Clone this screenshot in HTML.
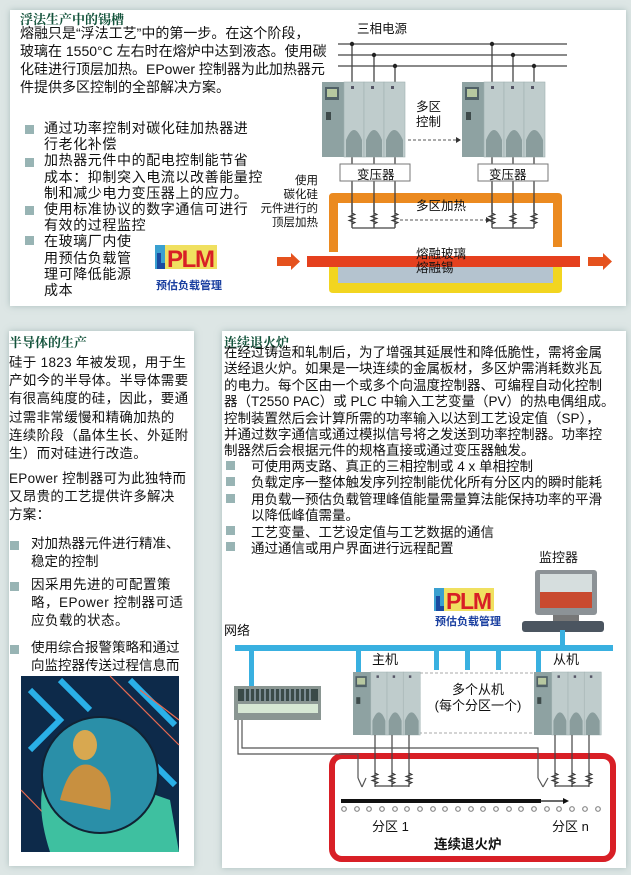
<!DOCTYPE html>
<html><head><meta charset="utf-8">
<style>
*{margin:0;padding:0;box-sizing:border-box}
body{width:631px;height:875px;background:#dde6e5;position:relative;overflow:hidden;font-family:"Liberation Sans","Noto Sans CJK SC",sans-serif;color:#111}
.p{position:absolute;background:#fff;box-shadow:0 0 6px rgba(120,150,150,.5)}
.t{position:absolute;white-space:nowrap}
.h{font-weight:bold;color:#12523a;font-family:"Noto Serif CJK SC","Liberation Serif",serif;font-size:13px}
.b{position:absolute;width:9px;height:9px;background:#98b4b4}
svg{position:absolute;left:0;top:0}
</style></head><body>
<div class="p" style="left:10px;top:10px;width:616px;height:296px"></div>
<div class="p" style="left:9px;top:331px;width:185px;height:535px"></div>
<div class="p" style="left:222px;top:331px;width:404px;height:537px"></div>

<svg width="631" height="875" viewBox="0 0 631 875">
<defs>
<g id="ctl">
<rect x="0" y="0" width="22" height="75" fill="#8ea2a2"/>
<rect x="3" y="5" width="14" height="13" fill="#4f6066"/>
<rect x="5" y="7" width="10" height="8" fill="#b7c8a0"/>
<rect x="4" y="30" width="5" height="8" fill="#3d4a4a"/>
<g fill="#bfcccc" stroke="#9fb0b0" stroke-width=".6">
<rect x="22" y="0" width="20" height="75"/><rect x="42" y="0" width="20" height="75"/><rect x="62" y="0" width="21" height="75"/></g>
<g fill="#8a9d9d"><path d="M24 75 V58 Q32 38 40 58 V75Z"/><path d="M44 75 V58 Q52 38 60 58 V75Z"/><path d="M64 75 V58 Q72 38 81 58 V75Z"/></g>
<g fill="#556"><rect x="29" y="4" width="3" height="3"/><rect x="49" y="4" width="3" height="3"/><rect x="69" y="4" width="3" height="3"/></g>
</g>
<path id="res" d="M0 0 v3 l3 1.5 l-6 2 l6 2 l-6 2 l6 2 l-3 1.5 v3" fill="none" stroke="#333" stroke-width="1"/>
</defs>
<g stroke="#444" stroke-width="1.3">
<line x1="338" y1="44" x2="567" y2="44"/><line x1="338" y1="55" x2="567" y2="55"/><line x1="338" y1="66" x2="567" y2="66"/>
<line x1="352" y1="44" x2="352" y2="228"/><line x1="374" y1="55" x2="374" y2="228"/><line x1="395" y1="66" x2="395" y2="228"/>
<line x1="492" y1="44" x2="492" y2="228"/><line x1="513" y1="55" x2="513" y2="228"/><line x1="534" y1="66" x2="534" y2="228"/>
</g>
<g fill="#222"><circle cx="352" cy="44" r="2.2"/><circle cx="374" cy="55" r="2.2"/><circle cx="395" cy="66" r="2.2"/><circle cx="492" cy="44" r="2.2"/><circle cx="513" cy="55" r="2.2"/><circle cx="534" cy="66" r="2.2"/></g>
<use href="#ctl" x="322" y="82"/><use href="#ctl" x="462" y="82"/>
<line x1="408" y1="140" x2="458" y2="140" stroke="#555" stroke-dasharray="3,2"/><path d="M456 137 l5 3 l-5 3z" fill="#333"/>
<rect x="340" y="164" width="70" height="17" fill="#fff" stroke="#777"/>
<rect x="478" y="164" width="70" height="17" fill="#fff" stroke="#777"/>
<path d="M329 262 V289 Q329 293 333 293 H558 Q562 293 562 289 V262 H553 V283 H338 V262Z" fill="#f2d520"/>
<rect x="338" y="262" width="215" height="21" fill="#b4c3cf"/>
<path d="M329 252 V197 Q329 193 333 193 H558 Q562 193 562 197 V247 H553 V203 H338 V252Z" fill="#eb8a20"/>
<g stroke="#444" stroke-width="1.3"><line x1="352" y1="193" x2="352" y2="212"/><line x1="374" y1="193" x2="374" y2="212"/><line x1="395" y1="193" x2="395" y2="212"/><line x1="492" y1="193" x2="492" y2="212"/><line x1="513" y1="193" x2="513" y2="212"/><line x1="534" y1="193" x2="534" y2="212"/>
<line x1="352" y1="228" x2="395" y2="228"/><line x1="492" y1="228" x2="534" y2="228"/></g>
<use href="#res" x="352" y="210"/><use href="#res" x="374" y="210"/><use href="#res" x="395" y="210"/>
<use href="#res" x="492" y="210"/><use href="#res" x="513" y="210"/><use href="#res" x="534" y="210"/>
<line x1="400" y1="220" x2="488" y2="220" stroke="#555" stroke-dasharray="3,2"/><path d="M486 217 l5 3 l-5 3z" fill="#333"/>
<rect x="307" y="256" width="273" height="11" fill="#e5401e"/>
<path d="M277 257 H291 V253 L300 261.5 L291 270 V266 H277Z" fill="#e5521e"/>
<path d="M588 257 H603 V253 L612 261.5 L603 270 V266 H588Z" fill="#e5521e"/>
<g transform="translate(155,245)">
<rect x="0" y="0" width="62" height="24" fill="#f0e060"/><rect x="0" y="0" width="10" height="24" fill="#3aa0d0"/>
<path d="M2 24 V8 h4 v10 h4 v6z" fill="#1a4aa0"/>
<text x="12" y="22" font-family="Liberation Sans" font-weight="bold" font-size="24" fill="#d81f26" textLength="48">PLM</text>
<text x="1" y="44" font-size="11" fill="#1a3fa0" font-family="Noto Sans CJK SC" font-weight="bold">预估负载管理</text></g>
<g transform="translate(434,588)">
<rect x="0" y="0" width="60" height="23" fill="#f0e060"/><rect x="0" y="0" width="10" height="23" fill="#3aa0d0"/>
<path d="M2 23 V8 h4 v10 h4 v5z" fill="#1a4aa0"/>
<text x="12" y="21" font-family="Liberation Sans" font-weight="bold" font-size="23" fill="#d81f26" textLength="46">PLM</text>
<text x="1" y="37" font-size="11" fill="#1a3fa0" font-family="Noto Sans CJK SC" font-weight="bold">预估负载管理</text></g>
<rect x="535" y="570" width="62" height="45" rx="3" fill="#8c9296"/>
<rect x="540" y="574" width="52" height="34" fill="#d6dede"/>
<rect x="540" y="592" width="52" height="16" fill="#c94a30"/>
<rect x="553" y="615" width="26" height="6" fill="#777"/>
<rect x="522" y="621" width="82" height="11" rx="3" fill="#4b5560"/>
<g fill="#39b0e0">
<rect x="235" y="645" width="378" height="6"/>
<rect x="249" y="645" width="5" height="45"/><rect x="356" y="645" width="5" height="30"/>
<rect x="434" y="645" width="5" height="25"/><rect x="465" y="645" width="5" height="25"/><rect x="496" y="645" width="5" height="25"/>
<rect x="536" y="645" width="5" height="30"/><rect x="560" y="630" width="5" height="18"/></g>
<rect x="234" y="686" width="87" height="34" fill="#8a9692"/>
<rect x="238" y="689" width="80" height="12" fill="#3a4a48"/>
<rect x="238" y="704" width="80" height="9" fill="#d7e8d4"/>
<g stroke="#bcd" stroke-width="1"><path d="M245 689v12M250 689v12M255 689v12M260 689v12M265 689v12M270 689v12M275 689v12M280 689v12M285 689v12M290 689v12M295 689v12M300 689v12M305 689v12M310 689v12"/></g>
<rect x="332" y="756" width="281" height="103" rx="10" fill="#fff" stroke="#d81f26" stroke-width="6"/>
<rect x="420" y="673" width="116" height="60" fill="none" stroke="#aaa" stroke-dasharray="3,2"/>
<use href="#ctl" x="353" y="672" transform="translate(353,672) scale(0.81,0.84) translate(-353,-672)"/>
<use href="#ctl" x="534" y="672" transform="translate(534,672) scale(0.81,0.84) translate(-534,-672)"/>
<g stroke="#444" stroke-width="1.2" fill="none">
<path d="M375 735V786M392 735V786M409 735V786M375 786H409"/>
<path d="M555 735V786M572 735V786M589 735V786M555 786H589"/>
</g>
<use href="#res" x="375" y="770"/><use href="#res" x="392" y="770"/><use href="#res" x="409" y="770"/>
<use href="#res" x="555" y="770"/><use href="#res" x="572" y="770"/><use href="#res" x="589" y="770"/>
<g stroke="#555" stroke-width="1.2" fill="none">
<path d="M238 720V754H358V778M362 787L358 778M362 787L366 778"/>
<path d="M242 720V748H538V778M543 787L538 778M543 787L548 778"/>
</g>
<rect x="341" y="799" width="200" height="4" fill="#111"/>
<line x1="541" y1="801" x2="565" y2="801" stroke="#111" stroke-width="1.2"/><path d="M563 798l6 3l-6 3z" fill="#111"/>
<g fill="none" stroke="#888" stroke-width="1.2">
<circle cx="344" cy="809" r="2.3"/><circle cx="357" cy="809" r="2.3"/><circle cx="369" cy="809" r="2.3"/><circle cx="382" cy="809" r="2.3"/><circle cx="395" cy="809" r="2.3"/><circle cx="407" cy="809" r="2.3"/><circle cx="420" cy="809" r="2.3"/><circle cx="433" cy="809" r="2.3"/><circle cx="445" cy="809" r="2.3"/><circle cx="458" cy="809" r="2.3"/><circle cx="471" cy="809" r="2.3"/><circle cx="483" cy="809" r="2.3"/><circle cx="496" cy="809" r="2.3"/><circle cx="509" cy="809" r="2.3"/><circle cx="521" cy="809" r="2.3"/><circle cx="534" cy="809" r="2.3"/><circle cx="547" cy="809" r="2.3"/><circle cx="559" cy="809" r="2.3"/><circle cx="572" cy="809" r="2.3"/><circle cx="585" cy="809" r="2.3"/><circle cx="598" cy="809" r="2.3"/></g>
<rect x="21" y="676" width="158" height="176" fill="#0d2a4a"/>
<g fill="none" stroke="#2ab0e8" stroke-width="6">
<path d="M30 690 L60 720 L30 750"/><path d="M60 680 L90 710"/><path d="M130 680 L175 725"/><path d="M150 760 L175 785"/></g>
<g fill="none" stroke="#e86a50" stroke-width="1.2"><path d="M110 676 L179 745"/><path d="M21 790 L60 830"/><path d="M140 690 L179 720"/></g>
<path d="M50 852 Q30 790 55 760 L70 750 Q110 780 170 800 L179 852Z" fill="#3ec0a0"/>
<circle cx="100" cy="775" r="58" fill="#2a8fa8"/>
<circle cx="100" cy="775" r="58" fill="none" stroke="#123" stroke-width="2"/>
<ellipse cx="85" cy="745" rx="12" ry="15" fill="#d8a850"/>
<path d="M60 800 Q70 760 90 765 Q115 775 110 810Z" fill="#c89040"/>
</svg>

<div class="t h" style="left:20px;top:9px">浮法生产中的锡槽</div>
<div class="t" style="left:20px;top:24px;font-size:14px;line-height:18px">熔融只是“浮法工艺”中的第一步。在这个阶段，<br>玻璃在 1550°C 左右时在熔炉中达到液态。使用碳<br>化硅进行顶层加热。EPower 控制器为此加热器元<br>件提供多区控制的全部解决方案。</div>
<div class="b" style="left:25px;top:125px"></div><div class="b" style="left:25px;top:158px"></div><div class="b" style="left:25px;top:206px"></div><div class="b" style="left:25px;top:236px"></div>
<div class="t" style="left:44px;top:120px;font-size:14px;line-height:16.2px;letter-spacing:.6px">通过功率控制对碳化硅加热器进<br>行老化补偿<br>加热器元件中的配电控制能节省<br>成本：抑制突入电流以改善能量控<br>制和减少电力变压器上的应力。<br>使用标准协议的数字通信可进行<br>有效的过程监控<br>在玻璃厂内使<br>用预估负载管<br>理可降低能源<br>成本</div>
<div class="t" style="left:357px;top:18px;font-size:12.5px">三相电源</div>
<div class="t" style="left:416px;top:100px;font-size:12.5px;line-height:15px">多区<br>控制</div>
<div class="t" style="left:357px;top:164px;font-size:12.5px">变压器</div>
<div class="t" style="left:489px;top:164px;font-size:12.5px">变压器</div>
<div class="t" style="left:258px;top:174px;font-size:11.5px;line-height:14px;text-align:right;width:60px">使用<br>碳化硅<br>元件进行的<br>顶层加热</div>
<div class="t" style="left:416px;top:195px;font-size:12.5px">多区加热</div>
<div class="t" style="left:416px;top:247px;font-size:12.5px;line-height:14px">熔融玻璃<br>熔融锡</div>

<div class="t h" style="left:9px;top:332px">半导体的生产</div>
<div class="t" style="left:9px;top:354px;font-size:13.5px;line-height:18.2px;letter-spacing:.3px">硅于 1823 年被发现，用于生<br>产如今的半导体。半导体需要<br>有很高纯度的硅，因此，要通<br>过需非常缓慢和精确加热的<br>连续阶段（晶体生长、外延附<br>生）而对硅进行改造。</div>
<div class="t" style="left:9px;top:470px;font-size:13.5px;line-height:18.2px;letter-spacing:.3px">EPower 控制器可为此独特而<br>又昂贵的工艺提供许多解决<br>方案：</div>
<div class="b" style="left:10px;top:541px"></div><div class="b" style="left:10px;top:582px"></div><div class="b" style="left:10px;top:645px"></div>
<div class="t" style="left:31px;top:535px;font-size:13.5px;line-height:18.2px">对加热器元件进行精准、<br>稳定的控制</div>
<div class="t" style="left:31px;top:576px;font-size:13.5px;line-height:18.2px;letter-spacing:.5px">因采用先进的可配置策<br>略，EPower 控制器可适<br>应负载的状态。</div>
<div class="t" style="left:31px;top:639px;font-size:13.5px;line-height:18.2px">使用综合报警策略和通过<br>向监控器传送过程信息而</div>

<div class="t h" style="left:224px;top:332px">连续退火炉</div>
<div class="t" style="left:224px;top:345px;font-size:13.5px;line-height:16.4px">在经过铸造和轧制后，为了增强其延展性和降低脆性，需将金属<br>送经退火炉。如果是一块连续的金属板材，多区炉需消耗数兆瓦<br>的电力。每个区由一个或多个向温度控制器、可编程自动化控制<br>器（T2550 PAC）或 PLC 中输入工艺变量（PV）的热电偶组成。<br>控制装置然后会计算所需的功率输入以达到工艺设定值（SP），<br>并通过数字通信或通过模拟信号将之发送到功率控制器。功率控<br>制器然后会根据元件的规格直接或通过变压器触发。</div>
<div class="b" style="left:226px;top:461px"></div><div class="b" style="left:226px;top:477px"></div><div class="b" style="left:226px;top:494px"></div><div class="b" style="left:226px;top:526px"></div><div class="b" style="left:226px;top:542px"></div>
<div class="t" style="left:251px;top:459px;font-size:13.5px;line-height:16.4px">可使用两支路、真正的三相控制或 4 x 单相控制<br>负载定序一整体触发序列控制能优化所有分区内的瞬时能耗<br>用负载一预估负载管理峰值能量需量算法能保持功率的平滑<br>以降低峰值需量。<br>工艺变量、工艺设定值与工艺数据的通信<br>通过通信或用户界面进行远程配置</div>
<div class="t" style="left:539px;top:547px;font-size:13px">监控器</div>
<div class="t" style="left:224px;top:620px;font-size:13px">网络</div>
<div class="t" style="left:372px;top:649px;font-size:13px">主机</div>
<div class="t" style="left:553px;top:649px;font-size:13px">从机</div>
<div class="t" style="left:420px;top:682px;width:116px;text-align:center;font-size:13px;line-height:16px">多个从机<br>(每个分区一个)</div>
<div class="t" style="left:372px;top:816px;font-size:13px">分区 1</div>
<div class="t" style="left:552px;top:816px;font-size:13px">分区 n</div>
<div class="t" style="left:434px;top:833px;font-size:13.5px;font-weight:bold">连续退火炉</div>
</body></html>
